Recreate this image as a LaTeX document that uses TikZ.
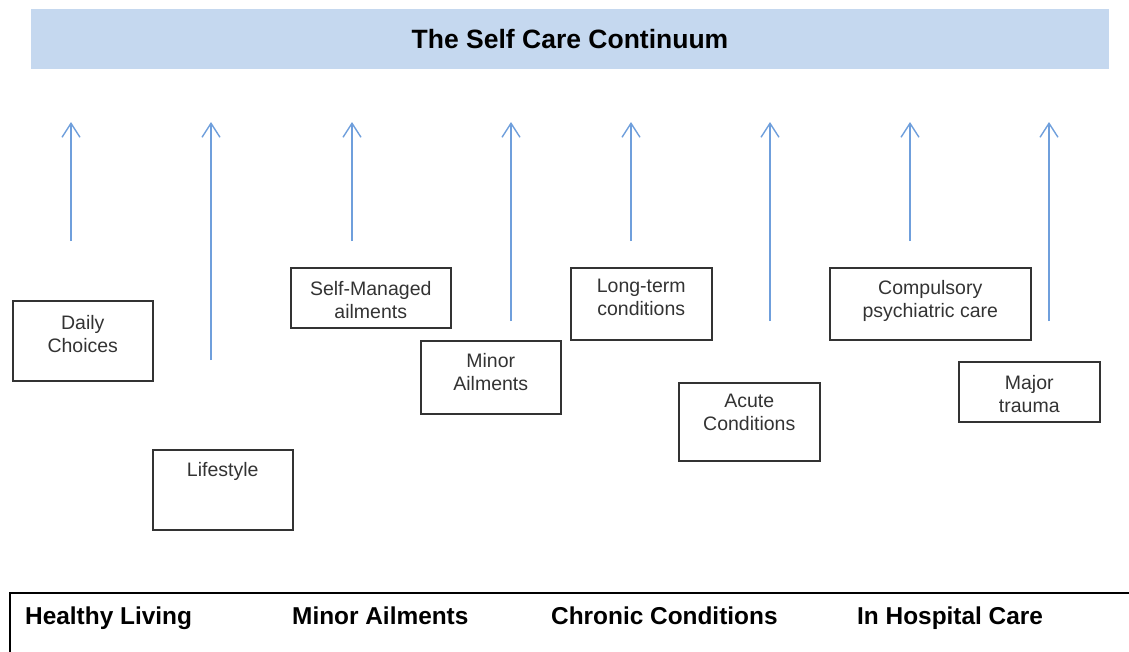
\documentclass[tikz,border=0pt]{standalone}
\usepackage{fontspec}
\setmainfont{Liberation Sans}
\usetikzlibrary{arrows.meta}
\definecolor{barblue}{HTML}{C5D8EF}
\definecolor{arrowblue}{HTML}{6F9FDC}
\definecolor{boxgray}{HTML}{333333}

\begin{document}
\begin{tikzpicture}[x=1pt,y=-1pt,
	carebox/.style={draw=boxgray,line width=1.5pt,minimum width=140pt,minimum height=80pt,anchor=north west,inner sep=0pt},
	boxtext/.style={anchor=north,align=center,inner sep=0pt,text=boxgray,font=\fontsize{19.5}{23}\selectfont},
	stagetext/.style={anchor=base west,inner sep=0pt,font=\fontsize{24.4}{28}\selectfont\bfseries},
	uparrow/.style={arrowblue,line width=1.4pt,-{Straight Barb[length=14pt,width=18pt,line width=1.4pt]}}]
\useasboundingbox (0,0) rectangle (1129,651);
\clip (0,0) rectangle (1129,651);
% title bar
\node[fill=barblue,minimum width=1078pt,minimum height=60pt,inner sep=0pt,
	font=\fontsize{26.5}{30}\selectfont\bfseries] (title) at (570,39) {The Self Care Continuum};
% arrows
\foreach \x/\y in {71/241,211/360,352/241,511/321,631/241,770/321,910/241,1049/321}
	\draw[uparrow] (\x,\y) -- (\x,122);
% boxes
\node[carebox] (daily) at (12,300) {};
\node[boxtext] (dailytxt) at ([yshift=-15pt]daily.north) {Daily\\Choices};
\node[carebox] (life) at (152,449) {};
\node[boxtext] (lifetxt) at ([yshift=-13pt]life.north) {Lifestyle};
\node[carebox,minimum width=160pt,minimum height=60pt] (selfman) at (290,267) {};
\node[boxtext] (selfmantxt) at ([yshift=-14pt]selfman.north) {Self-Managed\\ailments};
\node[carebox,minimum height=73pt] (minor) at (420,340) {};
\node[boxtext] (minortxt) at ([yshift=-13pt]minor.north) {Minor\\Ailments};
\node[carebox,minimum width=141pt,minimum height=72pt] (longterm) at (570,267) {};
\node[boxtext] (longtermtxt) at ([yshift=-12pt]longterm.north) {Long-term\\conditions};
\node[carebox,minimum width=141pt,minimum height=78pt] (acute) at (678,382) {};
\node[boxtext] (acutetxt) at ([yshift=-12pt]acute.north) {Acute\\Conditions};
\node[carebox,minimum width=201pt,minimum height=72pt] (psych) at (829,267) {};
\node[boxtext] (psychtxt) at ([yshift=-13pt]psych.north) {Compulsory\\psychiatric care};
\node[carebox,minimum width=141pt,minimum height=60pt] (trauma) at (958,361) {};
\node[boxtext] (traumatxt) at ([yshift=-14pt]trauma.north) {Major\\trauma};
% stages
\draw[line width=1.4pt] (10,700) -- (10,593) -- (1150,593);
\node[stagetext] (healthy) at (25,624) {Healthy Living};
\node[stagetext] (minorail) at (292,624) {Minor Ailments};
\node[stagetext] (chronic) at (551,624) {Chronic Conditions};
\node[stagetext] (hospital) at (857,624) {In Hospital Care};
\end{tikzpicture}
\end{document}
